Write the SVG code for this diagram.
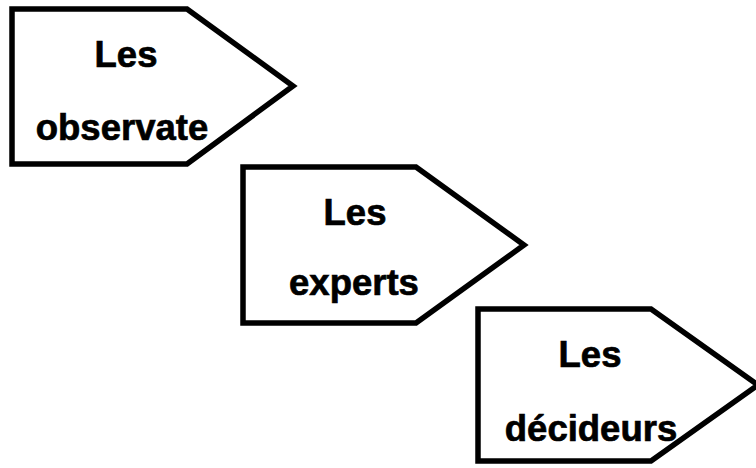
<svg xmlns="http://www.w3.org/2000/svg" width="756" height="468" viewBox="0 0 756 468">
<style>
.shape{fill:#fff;stroke:#000;stroke-width:5.5;stroke-linejoin:miter}
.lbl{font-family:"Liberation Sans",Arial,sans-serif;font-weight:bold;font-size:36.5px;fill:#000;stroke:#000;stroke-width:0.7;text-anchor:middle}
</style>
<rect width="756" height="468" fill="#fff"/>
<g id="observateurs">
<path class="shape" d="M12,9 L187,9 L293,86 L187,164 L12,164 Z"/>
<text class="lbl" x="126" y="67">Les</text>
<text class="lbl" x="122" y="140">observate</text>
</g>
<g id="experts">
<path class="shape" d="M243,167 L416,167 L524,245 L416,323 L243,323 Z"/>
<text class="lbl" x="355" y="225">Les</text>
<text class="lbl" x="354" y="295">experts</text>
</g>
<g id="decideurs">
<path class="shape" d="M478,309 L651,309 L758,385 L651,461 L478,461 Z"/>
<text class="lbl" x="590" y="367">Les</text>
<text class="lbl" x="591" y="441">décideurs</text>
</g>
<g id="connectors"></g>
</svg>
